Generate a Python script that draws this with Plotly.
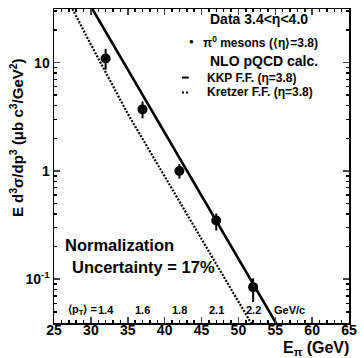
import plotly.graph_objects as go

# ---- data ----
E_data = [32.0, 37.0, 42.0, 47.0, 52.0]
xsec = [10.9, 3.7, 1.0, 0.348, 0.0845]
err_hi = [13.4, 4.38, 1.16, 0.404, 0.102]
err_lo = [8.6, 3.06, 0.85, 0.282, 0.0615]
pt_mean = ["1.4", "1.6", "1.8", "2.1", "2.2"]

E_kkp = [30.0, 35.0, 40.0, 45.0, 50.0, 55.0, 56.0]
y_kkp = [33.0, 8.6, 2.25, 0.59, 0.153, 0.040, 0.031]

E_kretzer = [27.5, 30.0, 35.0, 40.0, 45.0, 50.0, 51.6, 52.5]
y_kretzer = [31.3, 14.7, 3.37, 0.889, 0.234, 0.0619, 0.0404, 0.032]

x_ticks = [25, 30, 35, 40, 45, 50, 55, 60, 65]
y_ticks = [0.1, 1, 10]
y_ticktext = ["10<sup>-1</sup>", "1", "10"]

FONT = "Liberation Sans, Arial, Helvetica, sans-serif"
W, H = 364, 358
L, R, T, B = 54, 8, 7, 35
PW, PH = W - L - R, H - T - B


def px(xp):
    return (xp - L) / PW


def py(yp):
    return (H - B - yp) / PH


fig = go.Figure()

fig.add_trace(go.Scatter(x=E_kretzer, y=y_kretzer, mode="lines",
                         line=dict(color="black", width=2.2, dash="2px,1.5px"),
                         showlegend=False, cliponaxis=True))
fig.add_trace(go.Scatter(x=E_kkp, y=y_kkp, mode="lines",
                         line=dict(color="black", width=2.6),
                         showlegend=False, cliponaxis=True))
fig.add_trace(go.Scatter(
    x=E_data, y=xsec, mode="markers",
    marker=dict(color="black", size=10),
    error_y=dict(type="data", symmetric=False,
                 array=[h - v for h, v in zip(err_hi, xsec)],
                 arrayminus=[v - l for l, v in zip(err_lo, xsec)],
                 color="black", thickness=2, width=0),
    showlegend=False))

minor_y = [m * 10 ** k for k in (-2, -1, 0, 1) for m in range(2, 10)]

fig.update_xaxes(range=[25, 65], tickvals=x_ticks, ticks="inside", ticklen=6,
                 tickwidth=1.5, showline=True, linecolor="black", linewidth=1.5,
                 mirror="ticks", showgrid=False, zeroline=False,
                 ticklabelstandoff=-6,
                 tickfont=dict(family=FONT, size=14, color="black", weight="bold"),
                 minor=dict(ticks="inside", ticklen=3, dtick=1, tickcolor="black",
                            showgrid=False))
fig.update_yaxes(type="log", range=[-1.404, 1.495], tickvals=y_ticks,
                 ticktext=y_ticktext, ticks="inside", ticklen=6, tickwidth=1.5,
                 showline=True, linecolor="black", linewidth=1.5, mirror="ticks",
                 showgrid=False, zeroline=False,
                 tickfont=dict(family=FONT, size=14, color="black", weight="bold"),
                 minor=dict(ticks="inside", ticklen=3, tickvals=minor_y,
                            tickcolor="black", showgrid=False))

ann = []


def text(xp, yp, s, size, anchor="left", **kw):
    ann.append(dict(x=px(xp), y=py(yp), xref="paper", yref="paper", text=s,
                    showarrow=False, xanchor=anchor, yanchor="middle",
                    font=dict(family=FONT, size=size, color="black", weight="bold"),
                    **kw))


text(212, 17, "Data 3.4&lt;η&lt;4.0", 14)
text(195, 40, "●", 8, anchor="center")
text(204, 40, "π<sup>0</sup> mesons (⟨η⟩=3.8)", 12)
text(212, 59, "NLO pQCD calc.", 14)
text(209, 76, "KKP F.F. (η=3.8)", 12)
text(209, 91, "Kretzer F.F. (η=3.8)", 12)
text(63, 245, "Normalization", 16.5)
text(70, 267, "Uncertainty = 17%", 16.5)
text(100, 310, "⟨p<sub>T</sub>⟩ =", 11, anchor="right")
text(358, 349, "E<sub>π</sub> (GeV)", 16, anchor="right")
text(15, 136, "E d<sup>3</sup>σ/dp<sup>3</sup> (μb c<sup>3</sup>/GeV<sup>2</sup>)", 15,
     anchor="center", textangle=-90)

for e, p in zip(E_data, pt_mean):
    ann.append(dict(x=e, y=py(310), xref="x", yref="paper", text=p, showarrow=False,
                    xanchor="center", yanchor="middle",
                    font=dict(family=FONT, size=11, color="black", weight="bold")))
ann.append(dict(x=px(277), y=py(310), xref="paper", yref="paper", text="GeV/c",
                showarrow=False, xanchor="left", yanchor="middle",
                font=dict(family=FONT, size=11, color="black", weight="bold")))

shapes = [
    dict(type="line", xref="paper", yref="paper", x0=px(185), x1=px(192),
         y0=py(76), y1=py(76), line=dict(color="black", width=2)),
    dict(type="line", xref="paper", yref="paper", x0=px(185), x1=px(193),
         y0=py(91), y1=py(91), line=dict(color="black", width=2, dash="2px,2px")),
]

fig.update_layout(width=W, height=H, margin=dict(l=L, r=R, t=T, b=B),
                  paper_bgcolor="white", plot_bgcolor="white",
                  annotations=ann, shapes=shapes, showlegend=False)

fig.write_html("out.html",
               config={"displayModeBar": False, "staticPlot": True},
               post_script="document.body.style.margin='0';"
                           "document.body.style.overflow='hidden';")
